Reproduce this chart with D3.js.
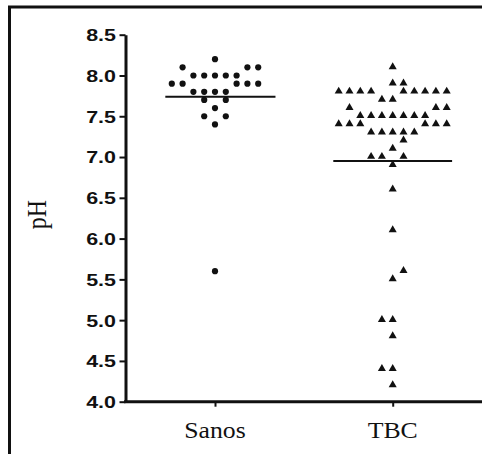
<!DOCTYPE html>
<html>
<head>
<meta charset="utf-8">
<script src="https://cdn.jsdelivr.net/npm/d3@7"></script>
<style>
  html, body { margin: 0; padding: 0; background: #fff; }
  svg { display: block; }
</style>
</head>
<body>
<svg id="chart" width="482" height="454"></svg>
<script>
// ---- data ----
const categories = ["Sanos", "TBC"];
const yTickValues = [4.0, 4.5, 5.0, 5.5, 6.0, 6.5, 7.0, 7.5, 8.0, 8.5];
const yLabel = "pH";

// Sanos (circles): pH value and column slot within the swarm
const sanosValues = [8.2, 8.1, 8.1, 8.1, 8.0, 8.0, 8.0, 8.0, 8.0,
                     7.9, 7.9, 7.9, 7.9, 7.9, 7.8, 7.8, 7.8, 7.8,
                     7.7, 7.7, 7.6, 7.5, 7.5, 7.4, 5.6];
const sanosSlots  = [0, -3, 3, 4, -2, -1, 0, 1, 2,
                     -4, -3, 2, 3, 4, -2, -1, 0, 1,
                     -1, 1, 0, -1, 1, 0, 0];

// TBC (triangles)
const tbcValues = [8.1, 7.9, 7.9,
                   7.8, 7.8, 7.8, 7.8, 7.8, 7.8, 7.8, 7.8, 7.8,
                   7.7, 7.7,
                   7.6, 7.6, 7.6,
                   7.5, 7.5, 7.5, 7.5, 7.5, 7.5, 7.5,
                   7.4, 7.4, 7.4, 7.4, 7.4, 7.4,
                   7.3, 7.3, 7.3, 7.3, 7.3,
                   7.2, 7.1, 7.0, 7.0, 7.0, 6.9, 6.6, 6.1, 5.6, 5.5,
                   5.0, 5.0, 4.8, 4.4, 4.4, 4.2];
const tbcSlots = [0, 0, 1,
                  -5, -4, -3, -2, 1, 2, 3, 4, 5,
                  -1, 0,
                  -4, 4, 5,
                  -3, -2, -1, 0, 1, 2, 3,
                  -5, -4, -3, 3, 4, 5,
                  -2, -1, 0, 1, 2,
                  1, 0, -2, -1, 1, 0, 0, 0, 1, 0,
                  -1, 0, 0, -1, 0, 0];

// group mean lines
const meanValues = [7.74, 6.95];

// ---- drawing ----
const svg = d3.select("#chart");

const y = d3.scaleLinear().domain([4.0, 8.5]).range([401.7, 34.7]);
const x = d3.scalePoint().domain(categories).range([215, 392.7]);
const slot = d3.scaleLinear().domain([0, 1]).range([0, 10.8]);

const axisX0 = 125.5;   // y-axis position
const ink = "#111";

// outer frame
svg.append("path")
  .attr("d", "M9.5,454 L9.5,7 L482,7")
  .attr("fill", "none").attr("stroke", ink).attr("stroke-width", 3);

// y axis
const yAxis = svg.append("g")
  .attr("transform", `translate(${axisX0},0)`)
  .call(d3.axisLeft(y).tickValues(yTickValues).tickFormat(d3.format(".1f"))
        .tickSize(6).tickSizeOuter(0).tickPadding(3));
yAxis.select(".domain").attr("stroke", ink).attr("stroke-width", 3);
yAxis.selectAll(".tick line").attr("stroke", ink).attr("stroke-width", 2);
const sx = 1.3;
yAxis.selectAll(".tick text")
  .attr("x", -9.5 / sx)
  .attr("dy", "0.36em")
  .attr("transform", `scale(${sx},1)`)
  .attr("fill", ink)
  .style("font-family", "'Liberation Sans', Arial, sans-serif")
  .style("font-weight", "bold")
  .style("font-size", "16.5px");

// x axis baseline
svg.append("line")
  .attr("x1", axisX0 - 1.5).attr("x2", 482)
  .attr("y1", y(4.0)).attr("y2", y(4.0))
  .attr("stroke", ink).attr("stroke-width", 3);

const xAxis = svg.append("g")
  .attr("transform", `translate(0,${y(4.0)})`)
  .call(d3.axisBottom(x).tickSize(5).tickFormat(""));
xAxis.select(".domain").remove();
xAxis.selectAll(".tick line").attr("stroke", ink).attr("stroke-width", 2);

// category labels
svg.selectAll("text.cat")
  .data(categories)
  .enter().append("text")
  .attr("class", "cat")
  .attr("transform", d => `translate(${x(d)},438) scale(1.12,1)`)
  .attr("text-anchor", "middle")
  .attr("fill", ink)
  .style("font-family", "'Liberation Serif', 'Times New Roman', serif")
  .style("font-size", "23px")
  .text(d => d);

// y label
svg.append("text")
  .attr("transform", "translate(45.5,214.5) rotate(-90) scale(1,1.15)")
  .attr("text-anchor", "middle")
  .attr("fill", ink)
  .style("font-family", "'Liberation Serif', 'Times New Roman', serif")
  .style("font-size", "24px")
  .text(yLabel);

// Sanos points
svg.append("g").selectAll("circle")
  .data(sanosValues.map((v, i) => ({ v, s: sanosSlots[i] })))
  .enter().append("circle")
  .attr("cx", d => x("Sanos") + slot(d.s))
  .attr("cy", d => y(d.v))
  .attr("r", 3.1)
  .attr("fill", ink);

// TBC points
const tri = d3.symbol().type(d3.symbolTriangle).size(28);
svg.append("g").selectAll("path")
  .data(tbcValues.map((v, i) => ({ v, s: tbcSlots[i] })))
  .enter().append("path")
  .attr("d", tri)
  .attr("transform", d => `translate(${x("TBC") + slot(d.s)},${y(d.v) - 0.5})`)
  .attr("fill", ink);

// mean lines
const lineExtent = { Sanos: [-4.6, 5.6], TBC: [-5.5, 5.5] };
svg.append("g").selectAll("line")
  .data(categories.map((c, i) => ({ c, m: meanValues[i] })))
  .enter().append("line")
  .attr("x1", d => x(d.c) + slot(lineExtent[d.c][0]))
  .attr("x2", d => x(d.c) + slot(lineExtent[d.c][1]))
  .attr("y1", d => y(d.m)).attr("y2", d => y(d.m))
  .attr("stroke", ink).attr("stroke-width", 2);
</script>
</body>
</html>
